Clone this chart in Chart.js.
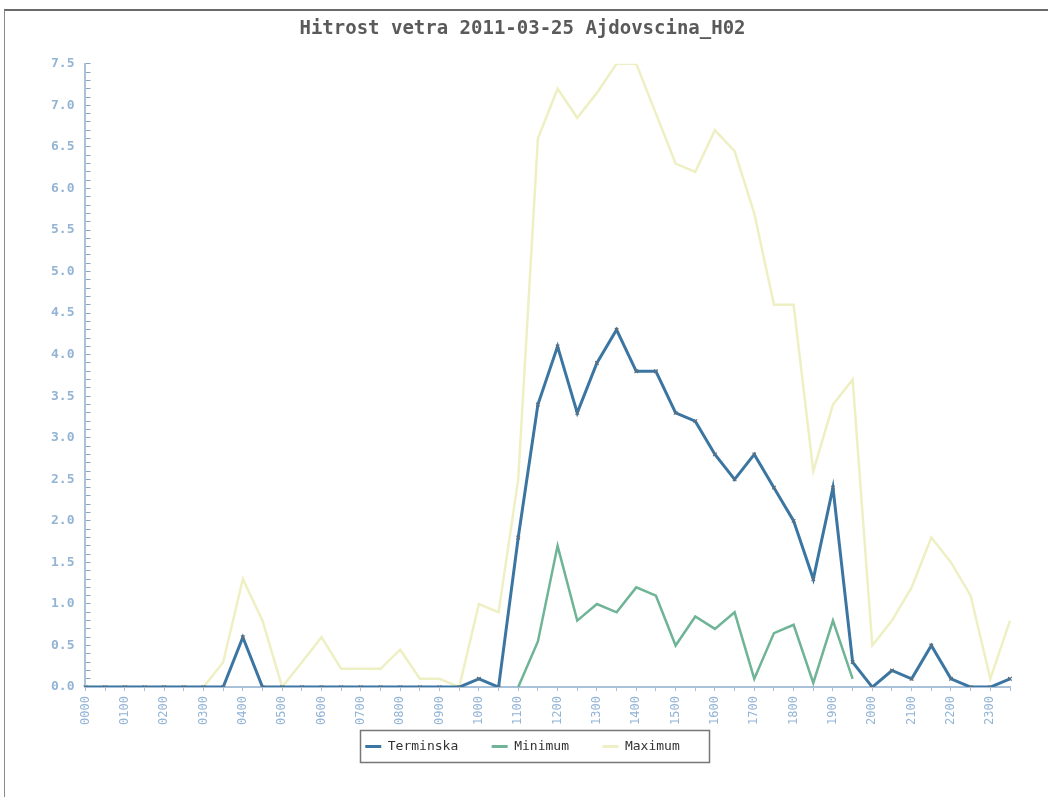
<!DOCTYPE html>
<html>
<head>
<meta charset="utf-8">
<script src="https://cdn.jsdelivr.net/npm/chart.js@4/dist/chart.umd.min.js"></script>
<style>
  html, body { margin: 0; padding: 0; background: #ffffff; overflow: hidden; width: 1048px; height: 797px; }
  #frame {
    position: absolute; left: 4px; top: 9px; width: 1044px; height: 788px;
    border-top: 2px solid #6a6a6a; border-left: 1px solid #8a8a8a;
    box-sizing: border-box;
  }
  #wrap { position: absolute; left: 5px; top: 11px; width: 1059px; height: 786px; }
</style>
</head>
<body>
<div id="frame"></div>
<div id="wrap"><canvas id="c"></canvas></div>
<script>
// Half-hourly wind speed readings (m/s)
const times = [
  "0000","0030","0100","0130","0200","0230","0300","0330",
  "0400","0430","0500","0530","0600","0630","0700","0730",
  "0800","0830","0900","0930","1000","1030","1100","1130",
  "1200","1230","1300","1330","1400","1430","1500","1530",
  "1600","1630","1700","1730","1800","1830","1900","1930",
  "2000","2030","2100","2130","2200","2230","2300","2330"
];
const terminska = [
  0, 0, 0, 0, 0, 0, 0, 0,
  0.6, 0, 0, 0, 0, 0, 0, 0,
  0, 0, 0, 0, 0.1, 0, 1.8, 3.4,
  4.1, 3.3, 3.9, 4.3, 3.8, 3.8, 3.3, 3.2,
  2.8, 2.5, 2.8, 2.4, 2.0, 1.3, 2.4, 0.3,
  0, 0.2, 0.1, 0.5, 0.1, 0, 0, 0.1
];
const minimum = [
  null, null, null, null, null, null, null, null,
  null, null, null, null, null, null, null, null,
  null, null, null, null, null, null, 0, 0.55,
  1.7, 0.8, 1.0, 0.9, 1.2, 1.1, 0.5, 0.85,
  0.7, 0.9, 0.1, 0.65, 0.75, 0.05, 0.8, 0.1,
  null, null, null, null, null, null, null, null
];
const maksimum = [
  0, 0, 0, 0, 0, 0, 0, 0.3,
  1.3, 0.8, 0, 0.3, 0.6, 0.22, 0.22, 0.22,
  0.45, 0.1, 0.1, 0, 1.0, 0.9, 2.5, 6.6,
  7.2, 6.85, 7.15, 7.5, 7.5, 6.9, 6.3, 6.2,
  6.7, 6.45, 5.7, 4.6, 4.6, 2.6, 3.4, 3.7,
  0.5, 0.8, 1.2, 1.8, 1.5, 1.1, 0.1, 0.8
];
const seriesNames = ['Terminska', 'Minimum', 'Maximum'];
const yMin = 0, yMax = 7.5, yMinorStep = 0.1;

const tickBlue = '#93b4d4';
const axisBlue = '#a9c2da';
const legendFont = { family: 'DejaVu Sans Mono', size: 13 };

// Thin frame drawn around the legend entries
const legendBox = {
  id: 'legendBox',
  afterDraw(chart) {
    const lg = chart.legend;
    if (!lg || !lg.legendHitBoxes || !lg.legendHitBoxes.length) return;
    const boxes = lg.legendHitBoxes;
    const ctx = chart.ctx;
    ctx.save();
    ctx.font = legendFont.size + 'px "' + legendFont.family + '"';
    const last = boxes[boxes.length - 1];
    const lastText = lg.legendItems[boxes.length - 1].text.trimEnd();
    const lastRight = last.left + lg.options.labels.boxWidth + legendFont.size / 2 + ctx.measureText(lastText).width;
    const left = boxes[0].left - 5;
    const right = lastRight + 30;
    ctx.strokeStyle = '#777';
    ctx.lineWidth = 1.5;
    ctx.strokeRect(Math.round(left) + 0.5, Math.round(lg.top) + 0.5,
                   Math.round(right - left), Math.round(lg.height) - 1);
    ctx.restore();
  }
};

const colors = ['#3b76a3', '#6fb496', '#eef0c4'];
// trailing gaps widen the spacing between legend entries
const legendGap = ['   ', '   ', ''];

new Chart(document.getElementById('c'), {
  type: 'line',
  data: {
    labels: times,
    datasets: [
      {
        label: seriesNames[0],
        data: terminska,
        borderColor: colors[0],
        backgroundColor: colors[0],
        borderWidth: 3,
        pointStyle: 'crossRot',
        pointRadius: 2.5,
        pointBorderColor: '#5a6f80',
        pointBorderWidth: 1.2,
        tension: 0,
        order: 1
      },
      {
        label: seriesNames[1],
        data: minimum,
        borderColor: colors[1],
        backgroundColor: colors[1],
        borderWidth: 2.5,
        pointRadius: 0,
        tension: 0,
        spanGaps: false,
        order: 2
      },
      {
        label: seriesNames[2],
        data: maksimum,
        borderColor: colors[2],
        backgroundColor: colors[2],
        borderWidth: 2.5,
        pointRadius: 0,
        tension: 0,
        order: 3
      }
    ]
  },
  options: {
    responsive: true,
    maintainAspectRatio: false,
    animation: false,
    layout: { padding: { left: 30, right: 54, top: 4, bottom: 34 } },
    plugins: {
      title: {
        display: true,
        text: 'Hitrost vetra 2011-03-25 Ajdovscina_H02',
        color: '#5a5a5a',
        font: { family: 'DejaVu Sans Mono', size: 19, weight: 'bold' },
        padding: { top: 3, bottom: 23 }
      },
      legend: {
        position: 'bottom',
        labels: {
          color: '#333',
          font: legendFont,
          boxWidth: 16,
          boxHeight: 3,
          padding: 10,
          generateLabels(chart) {
            return chart.data.datasets.map((ds, i) => ({
              text: ds.label + legendGap[i],
              fillStyle: ds.borderColor,
              strokeStyle: ds.borderColor,
              lineWidth: 0,
              datasetIndex: i,
              hidden: false,
              fontColor: '#333'
            }));
          }
        }
      },
      tooltip: { enabled: false }
    },
    scales: {
      x: {
        grid: {
          display: true,
          drawOnChartArea: false,
          tickLength: 4,
          color: axisBlue
        },
        border: { color: axisBlue, width: 2 },
        ticks: {
          autoSkip: false,
          minRotation: 90,
          maxRotation: 90,
          color: tickBlue,
          font: { family: 'DejaVu Sans Mono', size: 12 },
          padding: 5,
          callback(v, i) { return i % 2 === 0 ? times[i] : ''; }
        }
      },
      y: {
        min: yMin,
        max: yMax,
        grid: {
          display: true,
          drawOnChartArea: false,
          tickLength: -5,
          color: '#8aa4bb',
          lineWidth: 1
        },
        border: { color: axisBlue, width: 2 },
        ticks: {
          stepSize: yMinorStep,
          autoSkip: false,
          color: tickBlue,
          font: { family: 'DejaVu Sans Mono', size: 13, weight: 'bold' },
          padding: 16,
          callback(v) {
            const r = Math.round(v * 10);
            return r % 5 === 0 ? (r / 10).toFixed(1) : '';
          }
        }
      }
    }
  },
  plugins: [legendBox]
});
</script>
</body>
</html>
